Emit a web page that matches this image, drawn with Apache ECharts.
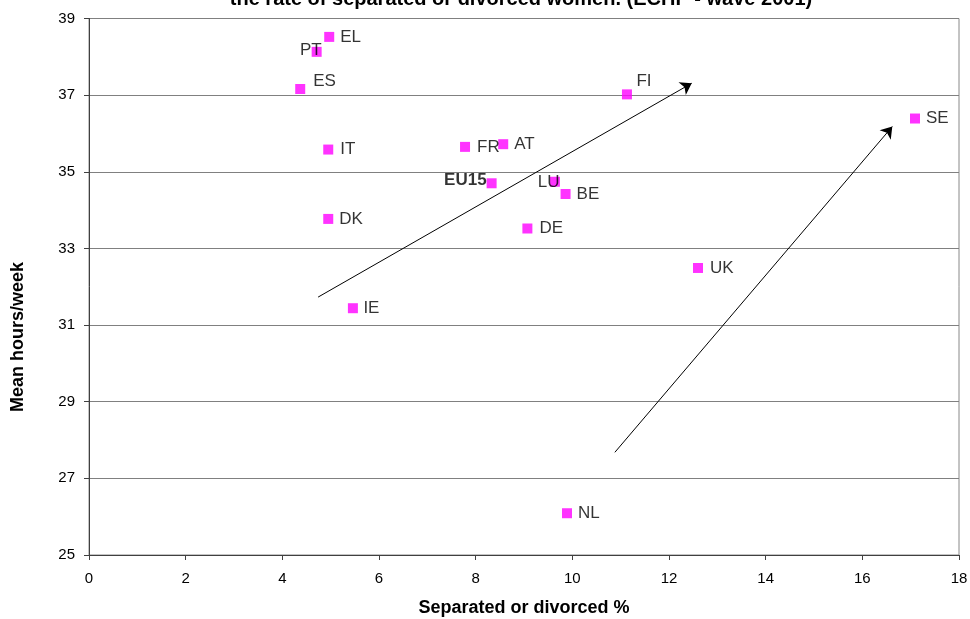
<!DOCTYPE html>
<html>
<head>
<meta charset="utf-8">
<script src="https://cdn.jsdelivr.net/npm/echarts@6/dist/echarts.min.js"></script>
<style>
html,body{margin:0;padding:0;background:#fff;}
#chart{width:970px;height:619px;}
</style>
</head>
<body>
<div id="chart"></div>
<script>
// ---- data ----
const countries = ["EL","PT","ES","IT","FR","AT","EU15","LU","BE","DE","DK","IE","FI","SE","UK","NL"];
const divorcedPct = [4.97,4.71,4.37,4.95,7.78,8.57,8.33,9.64,9.86,9.07,4.95,5.46,11.13,17.09,12.60,9.89];
const meanHours   = [38.52,38.13,37.16,35.58,35.65,35.72,34.70,34.74,34.42,33.52,33.77,31.44,37.02,36.39,32.49,26.09];
const xTicks = [0,2,4,6,8,10,12,14,16,18];
const yTicks = [25,27,29,31,33,35,37,39];
const arrowStarts = [[4.74,31.73],[10.88,27.68]];
const arrowEnds   = [[12.47,37.31],[16.62,36.18]];
const titleText = "the rate of separated or divorced women. (ECHP - wave 2001)";
const xName = "Separated or divorced %";
const yName = "Mean hours/week";

// ---- label placement (style only): text anchor relative to marker centre ----
const labelPlace = {
  EL:{dx:11,dy:0}, PT:{dx:5,dy:-2,align:'right'}, ES:{dx:13,dy:-8}, IT:{dx:12,dy:0},
  FR:{dx:12,dy:0}, AT:{dx:11,dy:0}, EU15:{dx:-5,dy:-2.5,align:'right',bold:true},
  LU:{dx:4.5,dy:0.5,align:'right'}, BE:{dx:11,dy:0}, DE:{dx:12,dy:0}, DK:{dx:11,dy:0},
  IE:{dx:10.5,dy:0}, FI:{dx:9.5,dy:-13}, SE:{dx:11,dy:0}, UK:{dx:12,dy:0}, NL:{dx:11,dy:0}
};

const FONT = '"Liberation Sans", Arial, sans-serif';
const MS = 10;

const scatterData = countries.map((c,i)=>{
  const p = labelPlace[c];
  return {
    name:c,
    value:[divorcedPct[i], meanHours[i]],
    label:{show:true, formatter:c, position:[MS/2+p.dx, MS/2+p.dy],
      align:p.align||'left', verticalAlign:'middle',
      fontWeight:p.bold?'bold':'normal', fontSize:17, color:'#000', fontFamily:FONT}
  };
});

const arrowData = arrowStarts.map((s,i)=>({coords:[s, arrowEnds[i]]}));

const chart = echarts.init(document.getElementById('chart'), null, {renderer:'canvas'});
chart.setOption({
  animation:false,
  backgroundColor:'#fff',
  grid:{left:89, right:11, top:18.5, bottom:64, show:true, borderColor:'#888', borderWidth:1,
        containLabel:false, outerBoundsMode:'none'},
  xAxis:{
    type:'value', min:xTicks[0], max:xTicks[xTicks.length-1], interval:2,
    axisLine:{show:true, onZero:false, lineStyle:{color:'#404040', width:1}},
    axisTick:{show:true, inside:false, length:5, lineStyle:{color:'#404040'}},
    axisLabel:{fontSize:15, color:'#000', fontFamily:FONT, margin:16},
    splitLine:{show:false},
    name:xName, nameLocation:'middle', nameGap:44,
    nameTextStyle:{fontSize:18, fontWeight:'bold', color:'#000', fontFamily:FONT}
  },
  yAxis:{
    type:'value', min:yTicks[0], max:yTicks[yTicks.length-1], interval:2,
    axisLine:{show:true, onZero:false, lineStyle:{color:'#404040', width:1}},
    axisTick:{show:true, inside:false, length:5, lineStyle:{color:'#404040'}},
    axisLabel:{fontSize:15, color:'#000', fontFamily:FONT, margin:14},
    splitLine:{show:true, lineStyle:{color:'#808080', width:1}}
  },
  graphic:[
    {type:'text', x:521, y:9, style:{text:titleText, font:'bold 20px '+FONT, fill:'#000', align:'center', verticalAlign:'bottom'}},
    {type:'text', x:18, y:337, rotation:Math.PI/2,
     style:{text:yName, font:'bold 18px '+FONT, fill:'#000', align:'center', verticalAlign:'middle'}}
  ],
  series:[
    {type:'lines', coordinateSystem:'cartesian2d', data:arrowData,
     symbol:['none','arrow'], symbolSize:[0,11], silent:true,
     lineStyle:{color:'#000', width:1, opacity:1}, z:3},
    {type:'scatter', data:scatterData, symbol:'rect', symbolSize:MS,
     itemStyle:{color:'#FF00FF'}, z:5, labelLayout:{hideOverlap:false}}
  ]
});
</script>
</body>
</html>
